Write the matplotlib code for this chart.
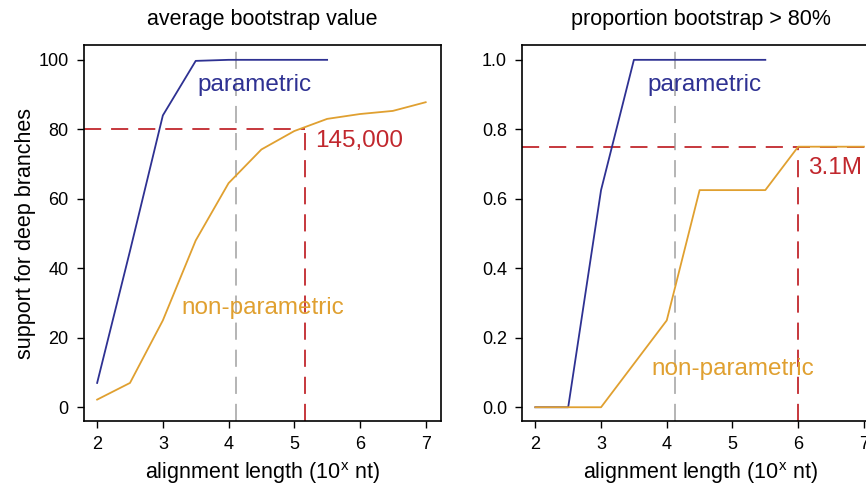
import matplotlib
matplotlib.use("Agg")
import matplotlib.pyplot as plt

plt.rcParams['font.family'] = ['Liberation Sans', 'DejaVu Sans']

# alignment length, log10 nt
x_len = [2, 2.5, 3, 3.5, 4, 4.5, 5, 5.5, 6, 6.5, 7]

# left panel: average bootstrap value
avg_param = [7, 45, 84, 99.7, 100, 100, 100, 100]
avg_nonparam = [2.2, 7, 25, 48, 64.5, 74.2, 79.5, 83, 84.4, 85.3, 87.8]

# right panel: proportion bootstrap > 80%
prop_param = [0, 0, 0.625, 1.0, 1.0, 1.0, 1.0, 1.0]
prop_nonparam = [0, 0, 0, 0.125, 0.25, 0.625, 0.625, 0.625, 0.75, 0.75, 0.75]

gray_x = 4.12
left_thresh, left_cross = 80, 5.16
right_thresh, right_cross = 0.75, 6.0

blue = "#2E3192"
orange = "#E0A030"
red = "#C1272D"
gray = "#AFAFAF"
dash = (0, (9.5, 5.5))

fig = plt.figure(figsize=(8.66, 4.88), dpi=100)
ax1 = fig.add_axes([0.097, 0.137, 0.412, 0.771])
ax2 = fig.add_axes([0.603, 0.137, 0.412, 0.771])

for ax in (ax1, ax2):
    ax.set_xlim(1.8, 7.23)
    ax.set_xticks(range(2, 8))
    ax.tick_params(direction="out", length=5, width=1, labelsize=13, pad=6)
    for s in ax.spines.values():
        s.set_linewidth(1.2)
    ax.axvline(gray_x, color=gray, lw=1.3, ls=dash, zorder=1)
    ax.set_xlabel("alignment length (10$^{\\mathregular{x}}$ nt)", fontsize=15.5, labelpad=5)

# left
ax1.set_ylim(-4, 104.3)
ax1.set_yticks(range(0, 101, 20))
ax1.plot([1.8, left_cross], [left_thresh, left_thresh], color=red, lw=1.3, ls=dash)
ax1.plot([left_cross, left_cross], [-4, left_thresh], color=red, lw=1.3, ls=dash)
ax1.plot(x_len[:len(avg_param)], avg_param, color=blue, lw=1.3)
ax1.plot(x_len, avg_nonparam, color=orange, lw=1.3)
ax1.text(3.53, 92.8, "parametric", color=blue, fontsize=17.5, va="center")
ax1.text(3.29, 28.5, "non-parametric", color=orange, fontsize=17.5, va="center")
ax1.text(5.31, 76.7, "145,000", color=red, fontsize=17.5, va="center")
ax1.set_title("average bootstrap value", fontsize=15.5, pad=14)
ax1.set_ylabel("support for deep branches", fontsize=15.5, labelpad=2)

# right
ax2.set_ylim(-0.04, 1.043)
ax2.set_yticks([0, 0.2, 0.4, 0.6, 0.8, 1.0])
ax2.set_yticklabels(["0.0", "0.2", "0.4", "0.6", "0.8", "1.0"])
ax2.axhline(right_thresh, color=red, lw=1.3, ls=dash)
ax2.plot([right_cross, right_cross], [-0.04, right_thresh], color=red, lw=1.3, ls=dash)
ax2.plot(x_len[:len(prop_param)], prop_param, color=blue, lw=1.3)
ax2.plot(x_len, prop_nonparam, color=orange, lw=1.3)
ax2.text(3.70, 0.928, "parametric", color=blue, fontsize=17.5, va="center")
ax2.text(3.76, 0.11, "non-parametric", color=orange, fontsize=17.5, va="center")
ax2.text(6.15, 0.69, "3.1M", color=red, fontsize=17.5, va="center")
ax2.set_title("proportion bootstrap > 80%", fontsize=15.5, pad=14)

fig.savefig("out.png", dpi=100)
